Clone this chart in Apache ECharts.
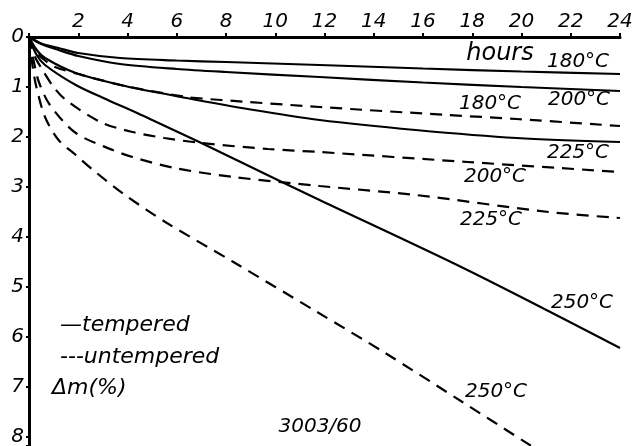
<!DOCTYPE html>
<html>
<head>
<meta charset="utf-8">
<script src="https://cdn.jsdelivr.net/npm/echarts@6/dist/echarts.min.js"></script>
<style>
html,body{margin:0;padding:0;background:#fff;}
#chart{width:636px;height:446px;}
</style>
</head>
<body>
<div id="chart"></div>
<script>
// ---- data (hours, mass change %) ----
const xTickValues = [0, 2, 4, 6, 8, 10, 12, 14, 16, 18, 20, 22, 24];
const yTickValues = [0, 1, 2, 3, 4, 5, 6, 7, 8];

const solid180 = [[0,0],[0.5,0.13],[1.2,0.22],[2,0.32],[3.7,0.42],[6,0.47],[8,0.5],[11.8,0.56],[16,0.63],[20,0.69],[24,0.74]];
const solid200 = [[0,0],[0.5,0.14],[1.2,0.26],[2,0.38],[3.7,0.54],[6,0.64],[8,0.7],[11.8,0.8],[16,0.91],[20,1.0],[24,1.08]];
const solid225 = [[0,0],[0.3,0.25],[0.65,0.42],[1.9,0.72],[3.9,0.98],[6.4,1.22],[9,1.45],[11.8,1.66],[15.7,1.86],[19.8,2.02],[24,2.1]];
const solid250 = [[0,0],[0.3,0.35],[0.65,0.56],[1.9,0.96],[3.2,1.26],[4.3,1.5],[5,1.66],[7,2.12],[10.1,2.86],[11.8,3.26],[17.8,4.66],[24,6.22]];

const dashed180 = [[0,0],[0.3,0.3],[0.6,0.45],[1.06,0.6],[2,0.74],[2.6,0.82],[3.9,0.98],[6.4,1.2],[7.8,1.26],[11.8,1.4],[17,1.56],[19.8,1.64],[24,1.78]];
const dashed200 = [[0,0],[0.25,0.4],[0.5,0.62],[1,1.0],[1.5,1.26],[2.9,1.7],[4.2,1.9],[5.5,2.02],[7,2.12],[9.7,2.24],[11.8,2.3],[17.8,2.5],[24,2.7]];
const dashed225 = [[0,0],[0.2,0.5],[0.4,0.9],[0.85,1.36],[1.9,1.92],[3.4,2.26],[4.2,2.4],[5.9,2.62],[8.3,2.8],[11.8,2.98],[15.7,3.16],[21.1,3.5],[24,3.62]];
const dashed250 = [[0,0],[0.15,0.6],[0.3,1.0],[0.65,1.6],[1.2,2.06],[1.9,2.36],[2.6,2.66],[3.9,3.16],[5.6,3.72],[8.3,4.5],[11.7,5.5],[14.4,6.3],[17.6,7.3],[20.4,8.18]];

const curveLabels = ['180°C', '200°C', '225°C', '250°C'];
const axisTitleX = 'hours';
const legendSolid = '—tempered';
const legendDashed = '---untempered';
const axisTitleY = 'Δm(%)';
const figureId = '3003/60';

// ---- chart ----
const chart = echarts.init(document.getElementById('chart'), null, {renderer: 'canvas'});
const FONT = '"DejaVu Sans", sans-serif';
function lineSeries(data, dashed) {
  return {
    type: 'line', data: data, smooth: 0.3, symbol: 'none', silent: true,
    lineStyle: {color: '#000', width: 2.2, type: dashed ? [12, 8] : 'solid'}
  };
}
function txt(t, x, y, size, align) {
  return {type: 'text', x: x, y: y, silent: true,
    style: {text: t, fill: '#000', font: 'italic ' + size + 'px ' + FONT,
      textAlign: align || 'center', textVerticalAlign: 'middle'}};
}
const option = {
  backgroundColor: '#fff',
  animation: false,
  grid: {left: 29, right: 16, top: 37, bottom: 0, containLabel: false, outerBoundsMode: 'none'},
  xAxis: {
    type: 'value', position: 'top', min: xTickValues[0], max: xTickValues[xTickValues.length - 1], interval: 2,
    axisLine: {show: true, lineStyle: {color: '#000', width: 3}},
    axisTick: {show: true, length: 4, lineStyle: {color: '#000', width: 2}},
    splitLine: {show: false},
    axisLabel: {color: '#000', fontSize: 20, fontStyle: 'italic', fontFamily: FONT, margin: 5,
      formatter: v => (v === 0 ? '' : String(v))}
  },
  yAxis: {
    type: 'value', inverse: true, min: yTickValues[0], max: 8.18, interval: 1,
    axisLine: {show: true, lineStyle: {color: '#000', width: 3}},
    axisTick: {show: true, length: 3, lineStyle: {color: '#000', width: 2}},
    splitLine: {show: false},
    axisLabel: {color: '#000', fontSize: 20, fontStyle: 'italic', fontFamily: FONT, margin: 5,
      formatter: v => (Math.abs(v - Math.round(v)) < 1e-6 ? String(Math.round(v)) : '')}
  },
  series: [
    lineSeries(solid180, false), lineSeries(solid200, false),
    lineSeries(solid225, false), lineSeries(solid250, false),
    lineSeries(dashed180, true), lineSeries(dashed200, true),
    lineSeries(dashed225, true), lineSeries(dashed250, true)
  ],
  graphic: [
    txt(axisTitleX, 500, 54, 24),
    txt(curveLabels[0], 578, 62, 20),
    txt(curveLabels[1], 579, 100, 20),
    txt(curveLabels[0], 490, 104, 20),
    txt(curveLabels[2], 578, 153, 20),
    txt(curveLabels[1], 495, 177, 20),
    txt(curveLabels[2], 491, 220, 20),
    txt(curveLabels[3], 582, 303, 20),
    txt(curveLabels[3], 496, 392, 20),
    txt(legendSolid, 60, 325, 22, 'left'),
    txt(legendDashed, 60, 357, 22, 'left'),
    txt(axisTitleY, 52, 388, 22, 'left'),
    txt(figureId, 320, 427, 20)
  ]
};
chart.setOption(option);
</script>
</body>
</html>
